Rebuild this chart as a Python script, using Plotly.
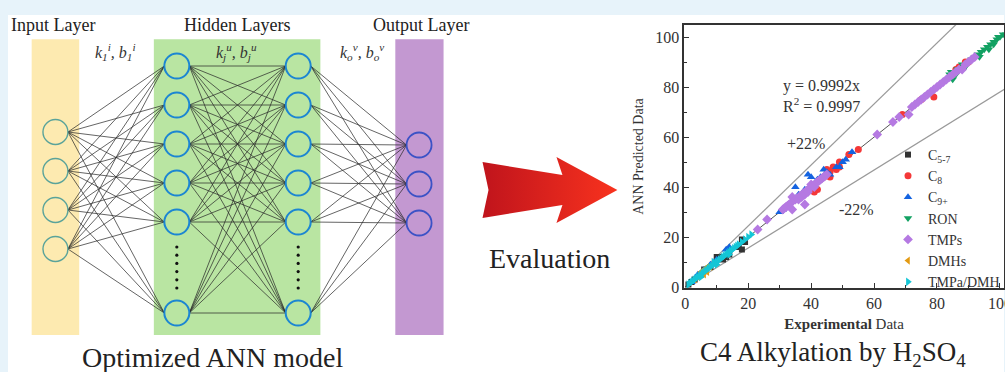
import plotly.graph_objects as go

# ---------------- data: scatter series (experimental vs ANN predicted) ----------------
c57_x = [1, 2, 3, 5, 6, 8, 10, 11, 12, 13, 14, 17, 18, 18, 19]
c57_y = [1, 2, 3, 5, 7, 8, 12, 12, 11, 12, 13, 16, 15, 19, 18]

c8_x = [41, 42, 44, 45, 46, 46, 47, 48, 49, 49, 52, 55, 69, 75, 79, 85, 86, 87, 88, 89, 90]
c8_y = [38, 39, 44, 47, 44, 46, 48, 47, 48, 50, 53, 55, 69, 75, 76, 85, 87, 88, 88, 90, 90]

c9_x = [2, 4, 6, 8, 10, 13, 14, 30, 31, 35, 36, 37, 38, 39, 40, 42, 43, 44, 45, 46, 48, 49, 50, 51, 53]
c9_y = [2, 5, 7, 9, 11, 15, 16, 30, 31, 40, 37, 37, 39, 45, 44, 43, 44, 47, 46, 45, 48, 48, 50, 51, 54]

ron_x = [84, 84.5, 85, 85, 86, 86.5, 87, 88, 89, 90, 91, 92, 93, 93.5, 94, 95, 96, 96.5, 97, 98, 98, 99, 99.5, 100, 101, 102]
ron_y = [85, 86, 83, 86, 85, 87, 87, 89, 88, 90, 91, 92, 93, 92, 94, 95, 96, 95, 97, 98, 97, 99, 100, 100, 101, 101]

tmp_x = [23, 26, 31, 31.5, 32, 32.5, 33, 33.5, 34, 34, 35, 35.5, 36, 36.5, 37, 37.5, 38, 38, 38.5, 39,
         39.5, 40, 40.5, 41, 41.5, 42, 42.5, 43, 43.5, 44, 44.5, 45,
         61, 66, 68, 71, 72, 73, 74, 75, 76, 77, 78, 79, 80, 81, 82, 83, 84, 85, 86, 87, 88, 89, 90, 91, 92]
tmp_y = [23, 27, 31, 31.5, 32, 32.5, 33, 33.5, 31, 36, 35, 35.5, 35, 36.5, 36, 37.5, 37, 33, 38.5, 38,
         39.5, 41, 40.5, 40, 41.5, 42, 42.5, 43, 43.5, 44, 44.5, 45,
         61, 66, 68, 69, 72, 73, 74, 75, 76, 77, 78, 79, 80, 81, 82, 83, 84, 85, 86, 87, 87, 89, 90, 91, 92]

dmh_x = [3, 4, 5, 5, 6, 6, 7, 7, 8]
dmh_y = [3, 4, 5, 6, 5, 7, 6, 8, 8]

tmpa_x = [1, 1.5, 2, 2.5, 3, 3.5, 4, 4.5, 5, 5, 5.5, 6, 6.5, 7, 7.5, 8, 8.5, 9, 9.5, 10, 10, 10.5,
          11, 11.5, 12, 12.5, 13, 13.5, 14, 14, 14.5, 15, 15.5, 16, 16.5, 17, 18, 19, 20, 21]
tmpa_y = [1, 1.5, 2, 2.5, 3, 3.5, 4, 4.5, 5, 4, 5.5, 6, 6.5, 7, 7.5, 8, 8.5, 10, 9.5, 10, 9, 10.5,
          11, 11.5, 12, 12.5, 13, 13.5, 14, 13, 14.5, 15, 15.5, 16, 16.5, 17, 18, 19, 20, 21]

series_names = ["C<sub>5-7</sub>", "C<sub>8</sub>", "C<sub>9+</sub>", "RON", "TMPs", "DMHs", "TMPa/DMH"]

fit_slope = 0.9992
fit_r2 = 0.9997
band = 0.22
tick_vals = [0, 20, 40, 60, 80, 100]

# ---------------- data: network diagram ----------------
input_nodes = 4
hidden_nodes_shown = 5      # nodes above the ellipsis
output_nodes = 3
layer_titles = ["Input Layer", "Hidden Layers", "Output Layer"]
weight_labels = ["<i>k<sub>1</sub><sup>i</sup>, b<sub>1</sub><sup>i</sup></i>",
                 "<i>k<sub>j</sub><sup>u</sup>, b<sub>j</sub><sup>u</sup></i>",
                 "<i>k<sub>o</sub><sup>v</sup>, b<sub>o</sub><sup>v</sup></i>"]

FONT = "Liberation Serif"
W, H = 1005, 372

fig = go.Figure()

# ---------------- diagram geometry (pixel space on x2/y2) ----------------
gap = 39
r = 12.5
col_x = [55.5, 177, 298.5, 419.5]
in_y = [132 + gap * i for i in range(input_nodes)]
hid_y = [66 + gap * i for i in range(hidden_nodes_shown)] + [313]
out_y = [145 + gap * i for i in range(output_nodes)]

def edges(xa, ya_list, xb, yb_list):
    xs, ys = [], []
    for ya in ya_list:
        for yb in yb_list:
            xs += [xa + r, xb - r, None]
            ys += [ya, yb, None]
    return xs, ys

ex, ey = [], []
for (xa, la, xb, lb) in [(col_x[0], in_y, col_x[1], hid_y),
                         (col_x[1], hid_y, col_x[2], hid_y),
                         (col_x[2], hid_y, col_x[3], out_y)]:
    a, b = edges(xa, la, xb, lb)
    ex += a
    ey += b

fig.add_trace(go.Scatter(x=ex, y=ey, mode="lines", xaxis="x2", yaxis="y2",
                         line=dict(color="rgba(40,40,40,0.8)", width=0.9),
                         hoverinfo="skip", showlegend=False))

# ellipsis dots
dot_x, dot_y = [], []
for cx in (col_x[1], col_x[2]):
    for k in range(6):
        dot_x.append(cx)
        dot_y.append(247 + k * 8.2)
fig.add_trace(go.Scatter(x=dot_x, y=dot_y, mode="markers", xaxis="x2", yaxis="y2",
                         marker=dict(color="#111", size=3.2), hoverinfo="skip", showlegend=False))

# arrow with gradient
arrow_x = [483, 563, 557, 618, 557, 563, 483, 489, 483]
arrow_y = [162, 175, 157, 190, 223, 205, 218, 190, 162]
fig.add_trace(go.Scatter(x=arrow_x, y=arrow_y, mode="lines", fill="toself", xaxis="x2", yaxis="y2",
                         line=dict(width=0, color="#e0201c"),
                         fillgradient=dict(type="horizontal",
                                           colorscale=[[0, "#c0141c"], [1, "#f8321e"]]),
                         hoverinfo="skip", showlegend=False))

# ---------------- scatter traces ----------------
xs_line = [0, 110]
fig.add_trace(go.Scatter(x=xs_line, y=[v * (1 + band) for v in xs_line], mode="lines",
                         line=dict(color="#9a9a9a", width=1.2), hoverinfo="skip", showlegend=False))
fig.add_trace(go.Scatter(x=xs_line, y=[v * (1 - band) for v in xs_line], mode="lines",
                         line=dict(color="#9a9a9a", width=1.2), hoverinfo="skip", showlegend=False))
fig.add_trace(go.Scatter(x=xs_line, y=[v * fit_slope for v in xs_line], mode="lines",
                         line=dict(color="#555", width=1), hoverinfo="skip", showlegend=False))

series = [(c57_x, c57_y, "square", "#333333", 6),
          (c8_x, c8_y, "circle", "#f43838", 7),
          (c9_x, c9_y, "triangle-up", "#1463e0", 7.5),
          (ron_x, ron_y, "triangle-down", "#12a162", 7.5),
          (tmp_x, tmp_y, "diamond", "#b579e2", 7.5),
          (dmh_x, dmh_y, "triangle-left", "#e39a12", 7),
          (tmpa_x, tmpa_y, "triangle-right", "#14c6d6", 7.5)]
for i, (sx, sy, sym, col, sz) in enumerate(series):
    fig.add_trace(go.Scatter(x=sx, y=sy, mode="markers", name=series_names[i],
                             legendgroup=str(i),
                             marker=dict(symbol=sym, color=col, size=sz, line=dict(width=0))))

# ---------------- shapes ----------------
shapes = [dict(type="rect", xref="paper", yref="paper", x0=8 / W, x1=1, y0=0, y1=1 - 15 / H,
               fillcolor="white", line=dict(width=0), layer="below")]
layer_rects = [(31.7, 79.3, "#fdeab0"), (154, 320.7, "#b9e5a2"), (395.7, 444, "#c398d1")]
for x0, x1, c in layer_rects:
    shapes.append(dict(type="rect", xref="x2", yref="y2", x0=x0, x1=x1, y0=39.3, y1=335,
                       fillcolor=c, line=dict(width=0), layer="below"))

def circle(cx, cy, color, fill, lw):
    return dict(type="circle", xref="x2", yref="y2", x0=cx - r, x1=cx + r, y0=cy - r, y1=cy + r,
                line=dict(color=color, width=lw), fillcolor=fill)

for cy in in_y:
    shapes.append(circle(col_x[0], cy, "#5aa39a", "#fdeab0", 1.4))
for cx in (col_x[1], col_x[2]):
    for cy in hid_y:
        shapes.append(circle(cx, cy, "#1c86d2", "#b9e5a2", 2.0))
for cy in out_y:
    shapes.append(circle(col_x[3], cy, "#3b52c6", "#c398d1", 1.8))

# ---------------- annotations ----------------
ann = []
for txt, x in zip(layer_titles, [53, 237, 421]):
    ann.append(dict(text=txt, x=x, y=25, xref="x2", yref="y2", showarrow=False,
                    font=dict(size=18, family=FONT, color="#222")))
for txt, x in zip(weight_labels, [116, 237, 362]):
    ann.append(dict(text=txt, x=x, y=52, xref="x2", yref="y2", showarrow=False,
                    font=dict(size=16, family=FONT, color="#333")))
ann.append(dict(text="Optimized ANN model", x=213, y=357, xref="x2", yref="y2", showarrow=False,
                font=dict(size=28, family=FONT, color="#222")))
ann.append(dict(text="Evaluation", x=550, y=258, xref="x2", yref="y2", showarrow=False,
                font=dict(size=28, family=FONT, color="#222")))
ann.append(dict(text="C4 Alkylation by H<sub>2</sub>SO<sub>4</sub>", x=834, y=354, xref="x2", yref="y2",
                showarrow=False, font=dict(size=27, family=FONT, color="#222")))
ann.append(dict(text=f"y = {fit_slope}x<br>R<sup>2</sup> = {fit_r2}", x=30.5, y=76.5, xref="x", yref="y",
                xanchor="left", align="left", showarrow=False,
                font=dict(size=16, family=FONT, color="#333")))
ann.append(dict(text=f"+{int(band*100)}%", x=38.4, y=57.2, xref="x", yref="y", showarrow=False,
                font=dict(size=16, family=FONT, color="#333")))
ann.append(dict(text=f"-{int(band*100)}%", x=54.3, y=30.8, xref="x", yref="y", showarrow=False,
                font=dict(size=16, family=FONT, color="#333")))

fig.update_layout(
    width=W, height=H, autosize=False,
    margin=dict(l=0, r=0, t=0, b=0, pad=0),
    paper_bgcolor="#e7f3fa", plot_bgcolor="rgba(0,0,0,0)",
    font=dict(family=FONT, color="#222"),
    shapes=shapes, annotations=ann,
    xaxis=dict(domain=[685 / W, 1.0], range=[-0.3, 101.3], tickvals=tick_vals,
               ticks="inside", ticklen=5, tickcolor="#333", showline=True, mirror=True,
               linecolor="#333", linewidth=1.5, showgrid=False, zeroline=False,
               ticklabeloverflow="allow",
               minor=dict(dtick=10, ticks="inside", ticklen=3, tickcolor="#333", showgrid=False),
               tickfont=dict(size=16, family=FONT, color="#333"),
               title=dict(text="<b>Experimental</b> Data", font=dict(size=15, family=FONT, color="#333"),
                          standoff=8),
               automargin=False, fixedrange=True),
    yaxis=dict(domain=[1 - 288 / H, 1 - 25 / H], range=[-0.4, 104.8], tickvals=tick_vals,
               ticks="inside", ticklen=5, tickcolor="#333", showline=True, mirror=True,
               linecolor="#333", linewidth=1.5, showgrid=False, zeroline=False,
               minor=dict(dtick=10, ticks="inside", ticklen=3, tickcolor="#333", showgrid=False),
               tickfont=dict(size=16, family=FONT, color="#333"),
               title=dict(text="ANN Predicted Data", font=dict(size=14, family=FONT, color="#333"),
                          standoff=8),
               automargin=False, fixedrange=True),
    xaxis2=dict(domain=[0, 1], range=[0, W], visible=False, anchor="y2", fixedrange=True),
    yaxis2=dict(domain=[0, 1], range=[H, 0], visible=False, anchor="x2", fixedrange=True),
    legend=dict(x=889 / W, y=1 - 139 / H, xanchor="left", yanchor="top",
                bgcolor="rgba(0,0,0,0)", font=dict(size=14, family=FONT, color="#333"),
                tracegroupgap=0, itemsizing="trace"),
    showlegend=True,
)

fig.write_html("out.html", config={"displayModeBar": False},
               post_script="document.body.style.margin='0px';document.body.style.overflow='hidden';")
